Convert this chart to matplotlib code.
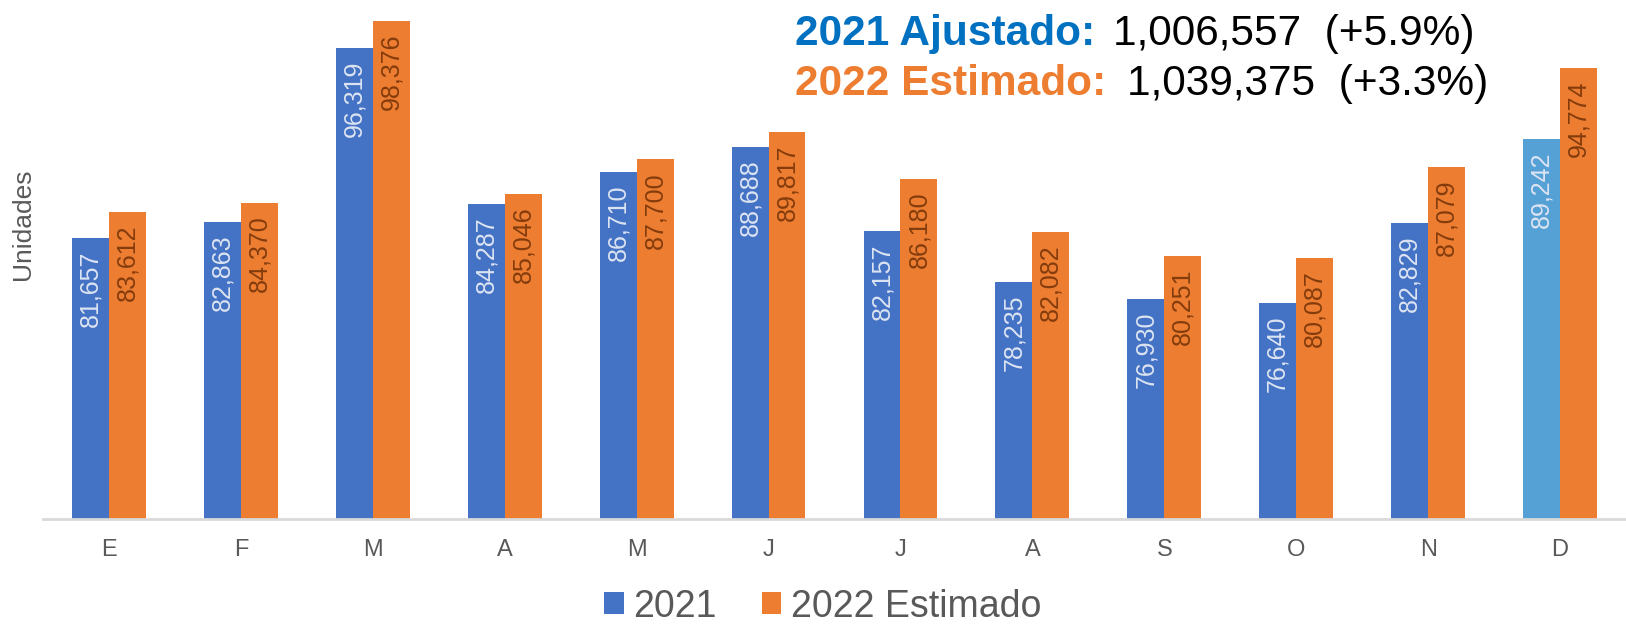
import matplotlib
matplotlib.use("Agg")
import matplotlib.pyplot as plt
from matplotlib.patches import Patch
import numpy as np

plt.rcParams['font.family'] = ['Liberation Sans', 'DejaVu Sans']

months = ['E', 'F', 'M', 'A', 'M', 'J', 'J', 'A', 'S', 'O', 'N', 'D']
units_2021 = [81657, 82863, 96319, 84287, 86710, 88688, 82157, 78235, 76930, 76640, 82829, 89242]
units_2022 = [83612, 84370, 98376, 85046, 87700, 89817, 86180, 82082, 80251, 80087, 87079, 94774]
series_names = ['2021', '2022 Estimado']
summary_heads = ['2021 Ajustado:', '2022 Estimado:']
summary_tails = ['1,006,557  (+5.9%)', '1,039,375  (+3.3%)']

blue = '#4472C4'
blue_dec = '#55A0D5'
orange = '#ED7D31'
gray = '#595959'

fig = plt.figure(figsize=(16.26, 6.24), dpi=100)
ax = fig.add_axes([43 / 1626, 1 - 518.5 / 624, 1 - 43 / 1626, 518.5 / 624])

x = np.arange(len(months))
w = 0.28
colors_2021 = [blue] * (len(months) - 1) + [blue_dec]
b1 = ax.bar(x - w / 2, units_2021, w, color=colors_2021, zorder=2)
b2 = ax.bar(x + w / 2, units_2022, w, color=orange, zorder=2)

for bars, vals, tc in [(b1, units_2021, '#DCE4F2'), (b2, units_2022, '#843C0C')]:
    for rect, v in zip(bars, vals):
        ax.annotate(f'{v:,}', (rect.get_x() + rect.get_width() / 2, v),
                    xytext=(0, -9), textcoords='offset points',
                    rotation=90, ha='center', va='top', fontsize=18, color=tc)

ax.set_xlim(-0.5, len(months) - 0.5)
ax.set_ylim(60000, 100000)
ax.set_xticks(x)
ax.set_xticklabels(months, fontsize=17, color=gray)
ax.tick_params(axis='x', length=0, pad=15)
ax.set_yticks([])
for s in ['top', 'right', 'left']:
    ax.spines[s].set_visible(False)
ax.spines['bottom'].set_color('#D9D9D9')
ax.spines['bottom'].set_linewidth(2)

fig.text(23 / 1626, 1 - 224 / 624, 'Unidades', rotation=90, ha='center', va='center',
         fontsize=19, color=gray)

# summary lines at top right
head_colors = ['#0070C0', orange]
tail_x = [1113, 1127]
base_y = [45, 95]
for i in range(2):
    fig.text(795 / 1626, 1 - base_y[i] / 624, summary_heads[i], fontsize=30.5,
             fontweight='bold', color=head_colors[i], ha='left', va='baseline')
    fig.text(tail_x[i] / 1626, 1 - base_y[i] / 624, summary_tails[i], fontsize=30.5,
             color='black', ha='left', va='baseline')

handles = [Patch(facecolor=blue, edgecolor='none'), Patch(facecolor=orange, edgecolor='none')]
fig.legend(handles, series_names, loc='center', bbox_to_anchor=(0.506, 0.028), ncol=2,
           frameon=False, fontsize=27, labelcolor=gray, handlelength=0.52,
           handleheight=0.52, handletextpad=0.25, columnspacing=1.2, borderpad=0)

fig.savefig('out.png', dpi=100)
